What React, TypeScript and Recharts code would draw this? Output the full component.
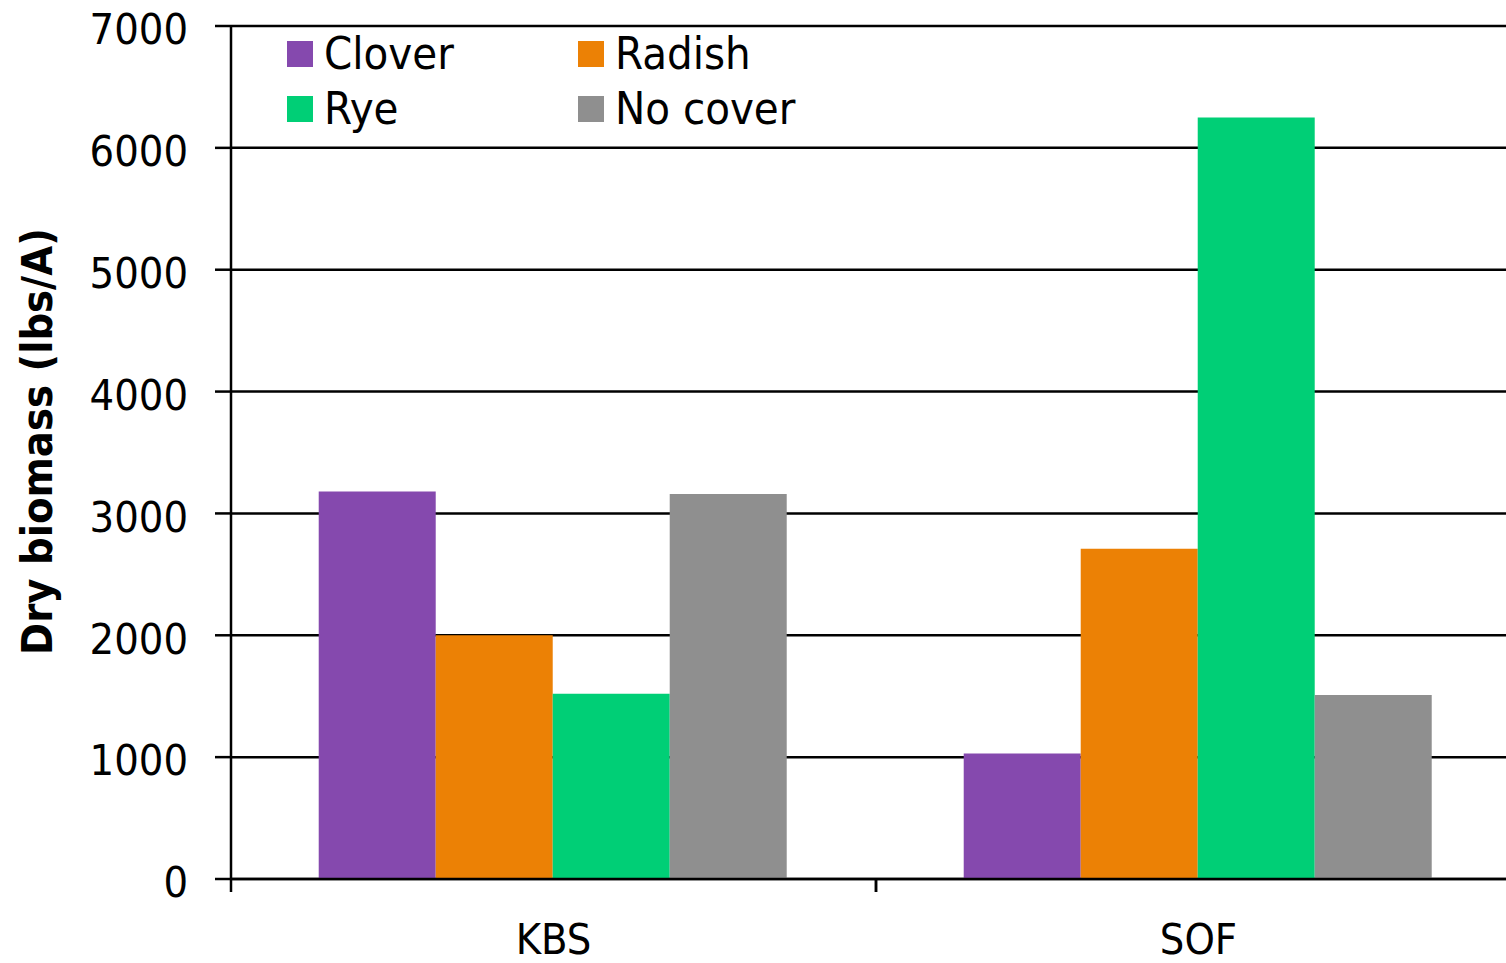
import { BarChart, Bar, XAxis, YAxis, CartesianGrid, Legend } from 'recharts';

// dry biomass per site and cover crop treatment, lbs/A
const sites = ['KBS', 'SOF'];
const clover = [3180, 1030];
const radish = [2000, 2710];
const rye = [1520, 6250];
const noCover = [3160, 1510];
const yTicks = [0, 1000, 2000, 3000, 4000, 5000, 6000, 7000];

const series = [
  { key: 'clover', name: 'Clover', color: '#8549ae' },
  { key: 'radish', name: 'Radish', color: '#ec8105' },
  { key: 'rye', name: 'Rye', color: '#00cf76' },
  { key: 'noCover', name: 'No cover', color: '#8f8f8f' },
];

const data = sites.map((site, i) => ({
  site,
  clover: clover[i],
  radish: radish[i],
  rye: rye[i],
  noCover: noCover[i],
}));

const FONT = '"DejaVu Sans Condensed", "DejaVu Sans", sans-serif';

function SiteTick(props: any) {
  const { x, y, payload } = props;
  const half = payload.offset ?? 0;
  return (
    <g>
      <line x1={x - half} y1={y - 8} x2={x - half} y2={y + 5} stroke="#000" strokeWidth={2.5} />
      <line x1={x + half} y1={y - 8} x2={x + half} y2={y + 5} stroke="#000" strokeWidth={2.5} />
      <text x={x} y={y + 67} textAnchor="middle" fontSize={43} fontFamily={FONT} fill="#000">
        {payload.value}
      </text>
    </g>
  );
}

// two-column key, in series order (Clover, Radish / Rye, No cover)
function LegendGrid(props: any) {
  const items = props.payload || [];
  const byName = new Map(items.map((it: any) => [it.value, it]));
  return (
    <div
      style={{
        display: 'grid',
        gridTemplateColumns: '291px auto',
        fontFamily: FONT,
        fontSize: 45,
        lineHeight: '55px',
        color: '#000',
      }}
    >
      {series.map((s) => {
        const it: any = byName.get(s.name);
        return (
          <div key={s.key} style={{ display: 'flex', alignItems: 'center' }}>
            <span
              style={{
                width: 26,
                height: 26,
                background: it ? it.color : s.color,
                display: 'inline-block',
                marginRight: 11,
              }}
            />
            <span>{s.name}</span>
          </div>
        );
      })}
    </div>
  );
}

function YTitle(props: any) {
  const { viewBox } = props;
  const cx = viewBox.x + 37;
  const cy = viewBox.y + viewBox.height / 2 - 11;
  return (
    <text
      x={cx}
      y={cy}
      transform={`rotate(-90, ${cx}, ${cy})`}
      textAnchor="middle"
      dominantBaseline="central"
      fontSize={43}
      fontWeight="bold"
      fontFamily={FONT}
      fill="#000"
    >
      Dry biomass (lbs/A)
    </text>
  );
}

export default function App() {
  return (
    <div style={{ position: 'absolute', left: 0, top: 0, width: 1506, height: 963, overflow: 'hidden', background: '#fff' }}>
      <BarChart
        width={1530}
        height={963}
        data={data}
        margin={{ top: 26, right: 9, left: 0, bottom: 0 }}
        barCategoryGap="13.6%"
        barGap={0}
      >
        <CartesianGrid vertical={false} stroke="#000" strokeWidth={2.5} />
        <XAxis
          dataKey="site"
          height={84}
          axisLine={{ stroke: '#000', strokeWidth: 2.5 }}
          tickLine={false}
          tick={<SiteTick />}
          interval={0}
        />
        <YAxis
          width={231}
          domain={[0, 7000]}
          ticks={yTicks}
          interval={0}
          tickSize={16}
          tickMargin={27}
          axisLine={{ stroke: '#000', strokeWidth: 2.5 }}
          tickLine={{ stroke: '#000', strokeWidth: 2.5 }}
          tick={{ fontSize: 43, fontFamily: FONT, fill: '#000', dy: 3 }}
          label={<YTitle />}
        />
        <Legend
          content={<LegendGrid />}
          layout="horizontal"
          align="center"
          verticalAlign="middle"
          wrapperStyle={{ position: 'absolute', top: 26, left: 287, width: 600 }}
        />
        {series.map((s) => (
          <Bar key={s.key} dataKey={s.key} name={s.name} fill={s.color} isAnimationActive={false} />
        ))}
      </BarChart>
    </div>
  );
}
